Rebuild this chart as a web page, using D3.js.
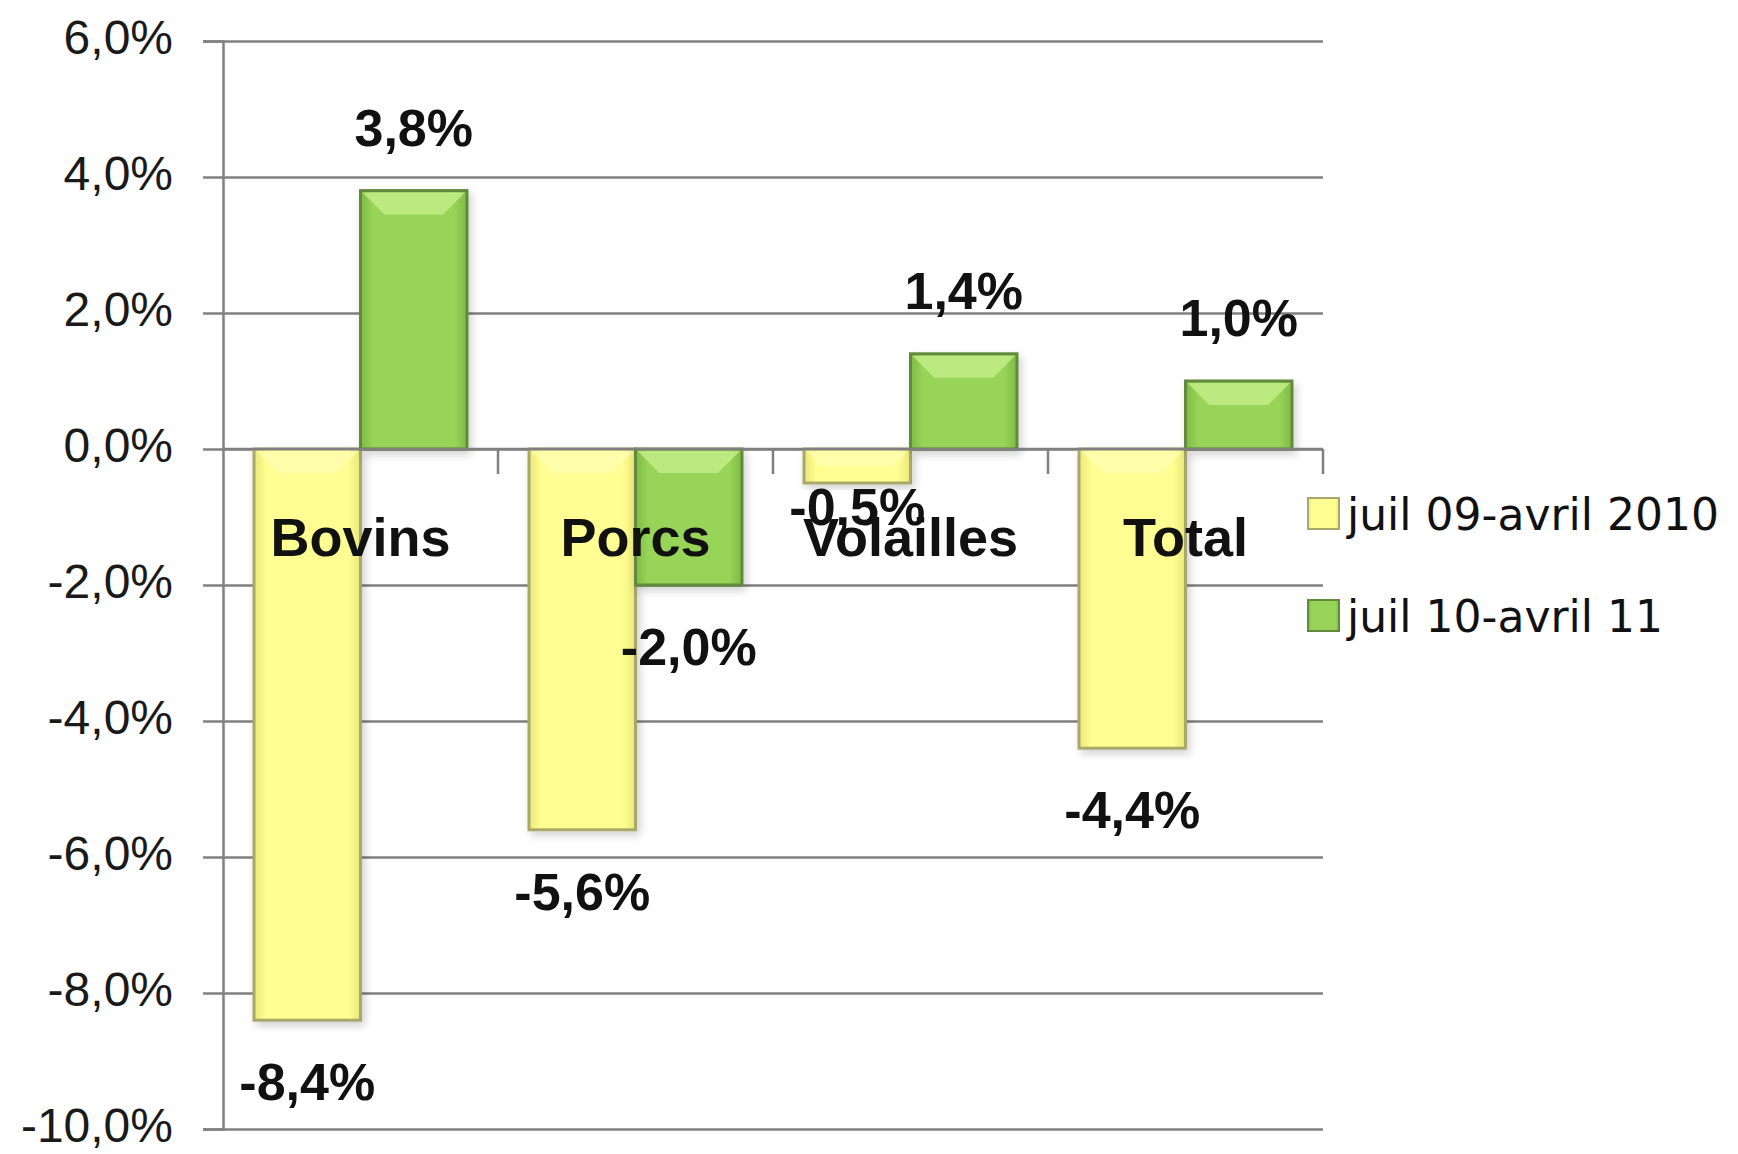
<!DOCTYPE html>
<html>
<head>
<meta charset="utf-8">
<script src="https://d3js.org/d3.v7.min.js"></script>
<style>
    body { margin: 0; background: #ffffff; }
    svg { display: block; }
</style>
</head>
<body>
<svg></svg>
<script>
// Data
let categories = ['Bovins', 'Porcs', 'Volailles', 'Total'];
let seriesNames = ['juil 09-avril 2010', 'juil 10-avril 11'];
let valuesFirst = [-8.4, -5.6, -0.5, -4.4];
let valuesSecond = [3.8, -2.0, 1.4, 1.0];
let yTicks = [6, 4, 2, 0, -2, -4, -6, -8, -10];

// SVG Dimensions
let width = 1738, height = 1154;
let plotLeft = 223, plotRight = 1323, plotTop = 41, plotBottom = 1129;

let svg = d3.select('svg')
    .attr('width', width)
    .attr('height', height);

let fmt = (v) => d3.format('.1f')(v).replace('.', ',').replace('\u2212', '-') + '%';

// Scales
let yScale = d3.scaleLinear().domain([-10, 6]).range([plotBottom, plotTop]);
let x0 = d3.scaleBand().domain(categories).range([plotLeft, plotRight]).padding(0);
let x1 = d3.scaleBand().domain(seriesNames).range([31, x0.bandwidth() - 31]).padding(0);

let data = categories.map((c, i) => ({
    cat: c,
    vals: [
        { s: seriesNames[0], v: valuesFirst[i], k: 0 },
        { s: seriesNames[1], v: valuesSecond[i], k: 1 }
    ]
}));

// Gradients
let defs = svg.append('defs');
let palettes = [
    { edge: '#ebe878', mid: '#fefe92', stroke: '#a9a76a', bevel: '#ffffc4' },
    { edge: '#7fbb45', mid: '#98d459', stroke: '#62893c', bevel: '#c8f08e' }
];
palettes.forEach((p, k) => {
    let g = defs.append('linearGradient').attr('id', 'grad' + k)
        .attr('x1', '0%').attr('x2', '100%').attr('y1', '0%').attr('y2', '0%');
    g.append('stop').attr('offset', '0%').attr('stop-color', p.edge);
    g.append('stop').attr('offset', '12%').attr('stop-color', p.mid);
    g.append('stop').attr('offset', '88%').attr('stop-color', p.mid);
    g.append('stop').attr('offset', '100%').attr('stop-color', p.edge);
});
let shadow = defs.append('filter').attr('id', 'shadow')
    .attr('x', '-20%').attr('y', '-20%').attr('width', '140%').attr('height', '140%');
shadow.append('feDropShadow').attr('dx', 3).attr('dy', 4).attr('stdDeviation', 4)
    .attr('flood-color', '#000').attr('flood-opacity', 0.18);

// Gridlines and y axis
let yAxis = d3.axisLeft(yScale)
    .tickValues(yTicks)
    .tickSize(20)
    .tickPadding(30)
    .tickFormat(fmt);
let yG = svg.append('g')
    .attr('transform', `translate(${plotLeft}, 0)`)
    .call(yAxis);
yG.select('.domain').attr('stroke', '#808080').attr('stroke-width', 2.5);
yG.selectAll('.tick line').attr('stroke', '#808080').attr('stroke-width', 2.5);
yG.selectAll('.tick text')
    .attr('font-family', '"Liberation Sans", Arial, sans-serif')
    .attr('font-size', 48)
    .attr('fill', '#1a1a1a')
    .attr('dy', '0.25em');
yG.selectAll('.tick')
    .append('line')
    .attr('x1', 0).attr('x2', plotRight - plotLeft)
    .attr('stroke', '#808080').attr('stroke-width', 2.5);

// Bars
let groups = svg.append('g').selectAll('g')
    .data(data)
    .enter()
    .append('g')
    .attr('transform', (d) => `translate(${x0(d.cat)}, 0)`);

let bars = groups.selectAll('g.bar')
    .data((d) => d.vals)
    .enter()
    .append('g')
    .attr('class', 'bar');

bars.append('rect')
    .attr('x', (d) => x1(d.s))
    .attr('y', (d) => yScale(Math.max(0, d.v)))
    .attr('width', x1.bandwidth())
    .attr('height', (d) => Math.abs(yScale(d.v) - yScale(0)))
    .attr('fill', (d) => `url(#grad${d.k})`)
    .attr('stroke', (d) => palettes[d.k].stroke)
    .attr('stroke-width', 3)
    .attr('filter', 'url(#shadow)');

// Bevel on the top edge of each bar
bars.append('path')
    .attr('d', (d) => {
        let x = x1(d.s) + 2, w = x1.bandwidth() - 4;
        let y = yScale(Math.max(0, d.v)) + 2;
        let h = Math.min(22, Math.abs(yScale(d.v) - yScale(0)) / 2 - 2);
        return `M${x},${y}L${x + w},${y}L${x + w - h},${y + h}L${x + h},${y + h}Z`;
    })
    .attr('fill', (d) => palettes[d.k].bevel)
    .attr('opacity', (d) => d.k === 1 ? 0.75 : 0.5);

// Zero axis with category boundary ticks
svg.append('line')
    .attr('x1', plotLeft).attr('x2', plotRight)
    .attr('y1', yScale(0)).attr('y2', yScale(0))
    .attr('stroke', '#808080').attr('stroke-width', 2.5);
svg.append('g').selectAll('line')
    .data(categories)
    .enter()
    .append('line')
    .attr('x1', (d) => x0(d) + x0.bandwidth()).attr('x2', (d) => x0(d) + x0.bandwidth())
    .attr('y1', yScale(0)).attr('y2', yScale(0) + 25)
    .attr('stroke', '#808080').attr('stroke-width', 2.5);

// Value labels (a very short negative bar keeps its label tight under the bar)
bars.append('text')
    .attr('x', (d) => x1(d.s) + x1.bandwidth() / 2)
    .attr('y', (d) => {
        if (d.v >= 0) return yScale(d.v) - 45;
        return Math.abs(d.v) < 1 ? yScale(d.v) + 42 : yScale(d.v) + 80;
    })
    .attr('text-anchor', 'middle')
    .attr('font-family', '"Liberation Sans", Arial, sans-serif')
    .attr('font-weight', 'bold')
    .attr('font-size', 52)
    .attr('fill', '#111')
    .text((d) => fmt(d.v));

// Category labels, drawn over the bars
let xAxis = d3.axisBottom(x0).tickSize(0).tickPadding(0);
let xG = svg.append('g')
    .attr('transform', `translate(0, ${yScale(0) + 69})`)
    .call(xAxis);
xG.select('.domain').remove();
xG.selectAll('.tick text')
    .attr('font-family', '"Liberation Sans", Arial, sans-serif')
    .attr('font-weight', 'bold')
    .attr('font-size', 54)
    .attr('fill', '#111');

// Legend
let legend = svg.append('g').attr('id', 'legend')
    .selectAll('g')
    .data(seriesNames)
    .enter()
    .append('g')
    .attr('transform', (d, i) => `translate(1308, ${498 + i * 102})`);

legend.append('rect')
    .attr('width', 31).attr('height', 31)
    .attr('fill', (d, i) => `url(#grad${i})`)
    .attr('stroke', (d, i) => palettes[i].stroke)
    .attr('stroke-width', 2);

legend.append('text')
    .attr('x', 39)
    .attr('y', 32)
    .attr('font-family', '"DejaVu Sans", Verdana, sans-serif')
    .attr('font-size', 44)
    .attr('fill', '#111')
    .text((d) => d);
</script>
</body>
</html>
